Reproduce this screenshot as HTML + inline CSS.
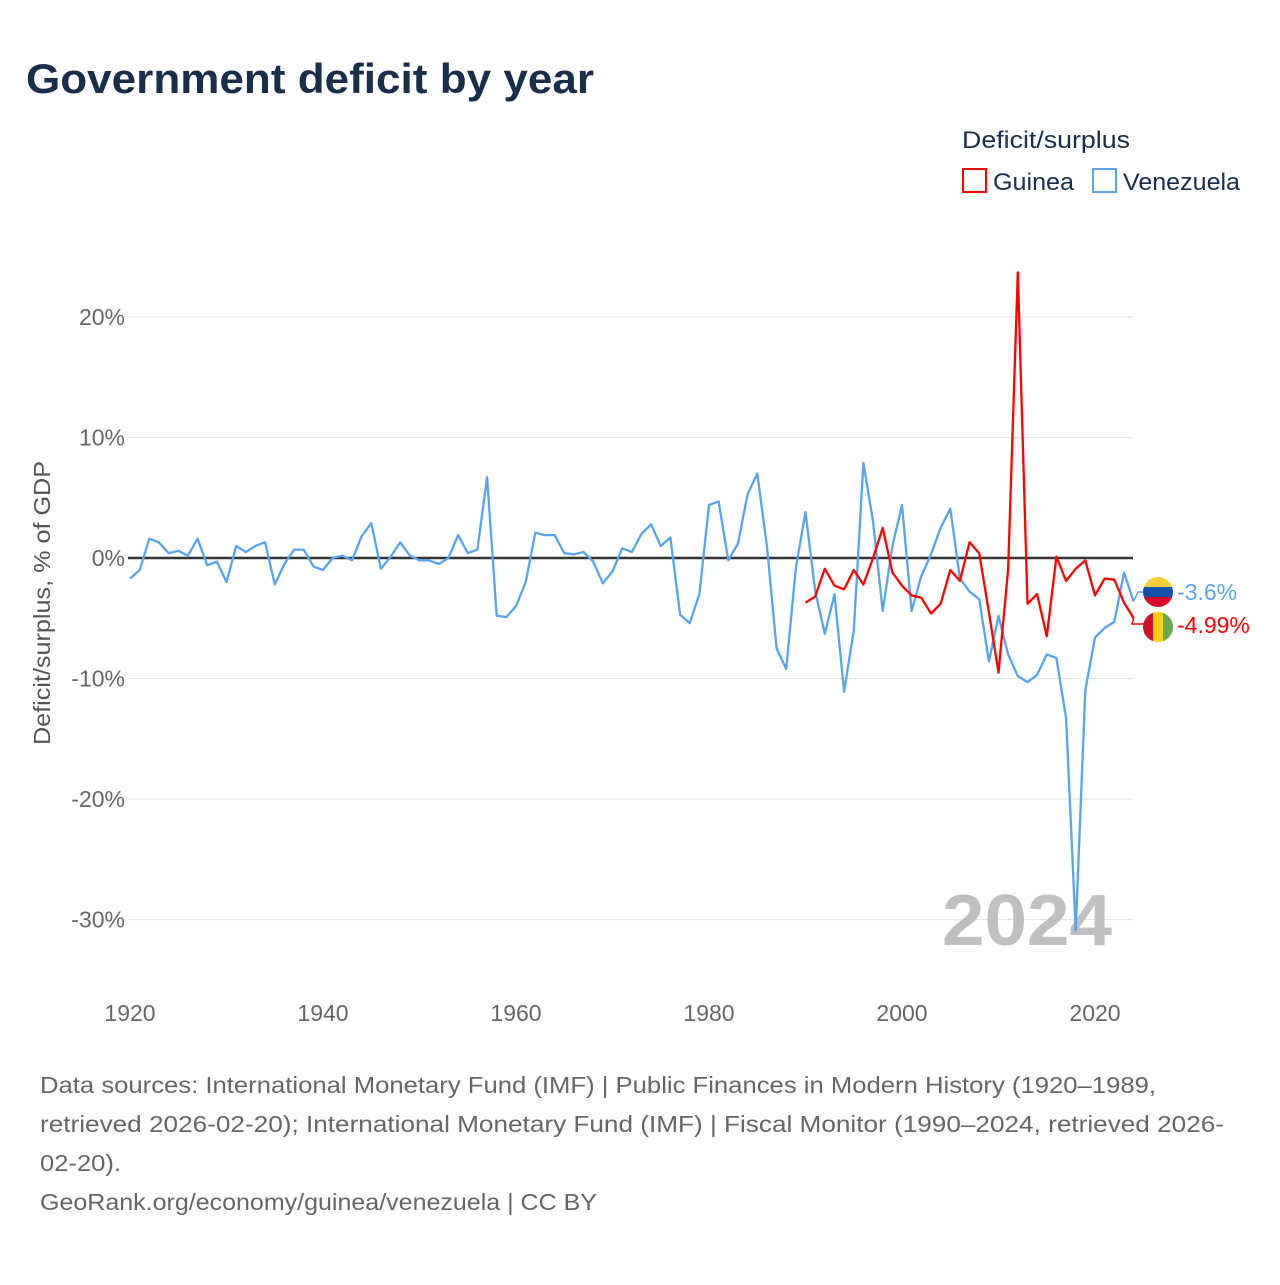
<!DOCTYPE html>
<html><head><meta charset="utf-8"><style>
body{margin:0;background:#fff;}
svg text{font-family:"Liberation Sans",sans-serif;}
</style></head><body>
<svg id="chart" width="1280" height="1280" viewBox="0 0 1280 1280" xmlns="http://www.w3.org/2000/svg">
<rect width="1280" height="1280" fill="#fff"/>
<text x="26" y="93" font-size="42" font-weight="bold" fill="#1a2e4a" textLength="568" lengthAdjust="spacingAndGlyphs">Government deficit by year</text>
<text x="962" y="148" font-size="24" fill="#1a2e4a" textLength="168" lengthAdjust="spacingAndGlyphs">Deficit/surplus</text>
<g>
<rect x="963" y="169" width="23" height="23" fill="none" stroke="#ff0000" stroke-width="2"/>
<text x="993" y="190" font-size="24" fill="#1a2e4a" textLength="81" lengthAdjust="spacingAndGlyphs">Guinea</text></g>
<g>
<rect x="1093" y="169" width="23" height="23" fill="none" stroke="#5ba3ea" stroke-width="2"/>
<text x="1123" y="190" font-size="24" fill="#1a2e4a" textLength="117" lengthAdjust="spacingAndGlyphs">Venezuela</text></g>
<g id="grid"></g>
<g id="xaxis"></g>
<text transform="translate(50,603) rotate(-90)" text-anchor="middle" font-size="23" fill="#555" textLength="284" lengthAdjust="spacingAndGlyphs">Deficit/surplus, % of GDP</text>
<text x="1112" y="945" text-anchor="end" font-size="72" font-weight="bold" fill="#c0c0c0" textLength="170" lengthAdjust="spacingAndGlyphs">2024</text>
<g id="series"></g>
<g id="endlabels"></g>
<g font-size="23" fill="#666">
<text x="40" y="1093" textLength="1116" lengthAdjust="spacingAndGlyphs">Data sources: International Monetary Fund (IMF) | Public Finances in Modern History (1920–1989,</text>
<text x="40" y="1132" textLength="1184" lengthAdjust="spacingAndGlyphs">retrieved 2026-02-20); International Monetary Fund (IMF) | Fiscal Monitor (1990–2024, retrieved 2026-</text>
<text x="40" y="1171" textLength="81" lengthAdjust="spacingAndGlyphs">02-20).</text>
<text x="40" y="1210" textLength="557" lengthAdjust="spacingAndGlyphs">GeoRank.org/economy/guinea/venezuela | CC BY</text>
</g>
</svg>
<script>
const yTicks=[20,10,0,-10,-20,-30];
const xTicks=[1920,1940,1960,1980,2000,2020];
const venStart=1920;
const venezuela=[-1.7,-1.0,1.6,1.3,0.4,0.6,0.2,1.6,-0.6,-0.3,-2.0,1.0,0.5,1.0,1.3,-2.2,-0.5,0.7,0.7,-0.7,-1.0,0.0,0.2,-0.2,1.8,2.9,-0.9,0.1,1.3,0.2,-0.2,-0.2,-0.5,0.0,1.9,0.4,0.7,6.7,-4.8,-4.9,-4.0,-2.0,2.1,1.9,1.9,0.4,0.3,0.5,-0.3,-2.1,-1.1,0.8,0.5,2.0,2.8,1.0,1.7,-4.7,-5.4,-3.0,4.4,4.7,-0.2,1.2,5.3,7.0,1.0,-7.5,-9.2,-0.8,3.8,-2.7,-6.3,-3.0,-11.1,-6.0,7.9,3.0,-4.4,1.0,4.4,-4.4,-1.5,0.3,2.5,4.1,-1.7,-2.8,-3.4,-8.6,-4.8,-8.0,-9.8,-10.3,-9.7,-8.0,-8.3,-13.3,-30.9,-11.0,-6.6,-5.8,-5.3,-1.2,-3.6];
const guiStart=1990;
const guinea=[-3.7,-3.2,-0.9,-2.3,-2.6,-1.0,-2.2,0.0,2.5,-1.2,-2.3,-3.1,-3.3,-4.6,-3.8,-1.0,-1.9,1.3,0.4,-4.5,-9.5,-1.0,23.7,-3.8,-3.0,-6.5,0.1,-1.9,-0.9,-0.2,-3.1,-1.7,-1.8,-3.7,-4.99];
const endLabels=["-3.6%","-4.99%"];

const NS="http://www.w3.org/2000/svg";
const X=y=>130+(y-1920)*9.65;
const Y=v=>558-v*12.05;
function mk(tag,attrs,parent){const e=document.createElementNS(NS,tag);for(const k in attrs)e.setAttribute(k,attrs[k]);parent.appendChild(e);return e;}
const grid=document.getElementById('grid');
yTicks.forEach(t=>{
 const l=mk('line',{x1:128,x2:1133,y1:Y(t),y2:Y(t),stroke:t===0?'#333':'#e6e6e6','stroke-width':t===0?2.5:1.2},grid);
 
 
 const tx=mk('text',{x:125,y:Y(t)+8,'text-anchor':'end','font-size':23,fill:'#666'},grid);
 tx.textContent=t+'%';
 
 
});
const xa=document.getElementById('xaxis');
xTicks.forEach(t=>{
 const tx=mk('text',{x:X(t),y:1021,'text-anchor':'middle','font-size':23,fill:'#666'},xa);
 tx.textContent=t;
 
 
});
const s=document.getElementById('series');
function line(arr,start,color,name){
 const d=arr.map((v,i)=>(i?'L':'M')+X(start+i).toFixed(1)+','+Y(v).toFixed(1)).join('');
 const p=mk('path',{d:d,fill:'none',stroke:color,'stroke-width':2.3,'stroke-linejoin':'round'},s);
 
 
}
line(venezuela,venStart,'#5ba3ea','venezuela-line');
line(guinea,guiStart,'#ff0000','guinea-line');
const el=document.getElementById('endlabels');
const vLast=venezuela[venezuela.length-1], gLast=guinea[guinea.length-1];
const vy=Y(vLast), gy=Y(gLast);
const vly=593, gly=626;
mk('path',{d:`M${X(2024)},${vy} L1138,${vly-1} L1144,${vly-1}`,fill:'none',stroke:'#5ba3ea','stroke-width':1.5},el);
mk('path',{d:`M${X(2024)},${gy} L1132,${gly-2} L1144,${gly-2}`,fill:'none',stroke:'#ff0000','stroke-width':1.5},el);
const vf=mk('g',{},el);


const cpv=mk('clipPath',{id:'cv'},vf);
mk('circle',{cx:1158,cy:vly-1,r:15},cpv);
const gv=mk('g',{'clip-path':'url(#cv)'},vf);
mk('rect',{x:1143,y:vly-16,width:30,height:10,fill:'#f7cf3a'},gv);
mk('rect',{x:1143,y:vly-6,width:30,height:10,fill:'#1351a8'},gv);
mk('rect',{x:1143,y:vly+4,width:30,height:11,fill:'#d9042b'},gv);
const gf=mk('g',{},el);


const cpg=mk('clipPath',{id:'cg'},gf);
mk('circle',{cx:1158,cy:gly+1,r:15},cpg);
const gg=mk('g',{'clip-path':'url(#cg)'},gf);
mk('rect',{x:1143,y:gly-14,width:10,height:30,fill:'#ce1126'},gg);
mk('rect',{x:1153,y:gly-14,width:10,height:30,fill:'#fcd116'},gg);
mk('rect',{x:1163,y:gly-14,width:10,height:30,fill:'#6aa84f'},gg);
const t1=mk('text',{x:1177,y:vly+7,'font-size':23,fill:'#5ba3ea'},el);
t1.textContent=endLabels[0];


const t2=mk('text',{x:1177,y:gly+7,'font-size':23,fill:'#ff0000'},el);
t2.textContent=endLabels[1];


</script>
</body></html>
